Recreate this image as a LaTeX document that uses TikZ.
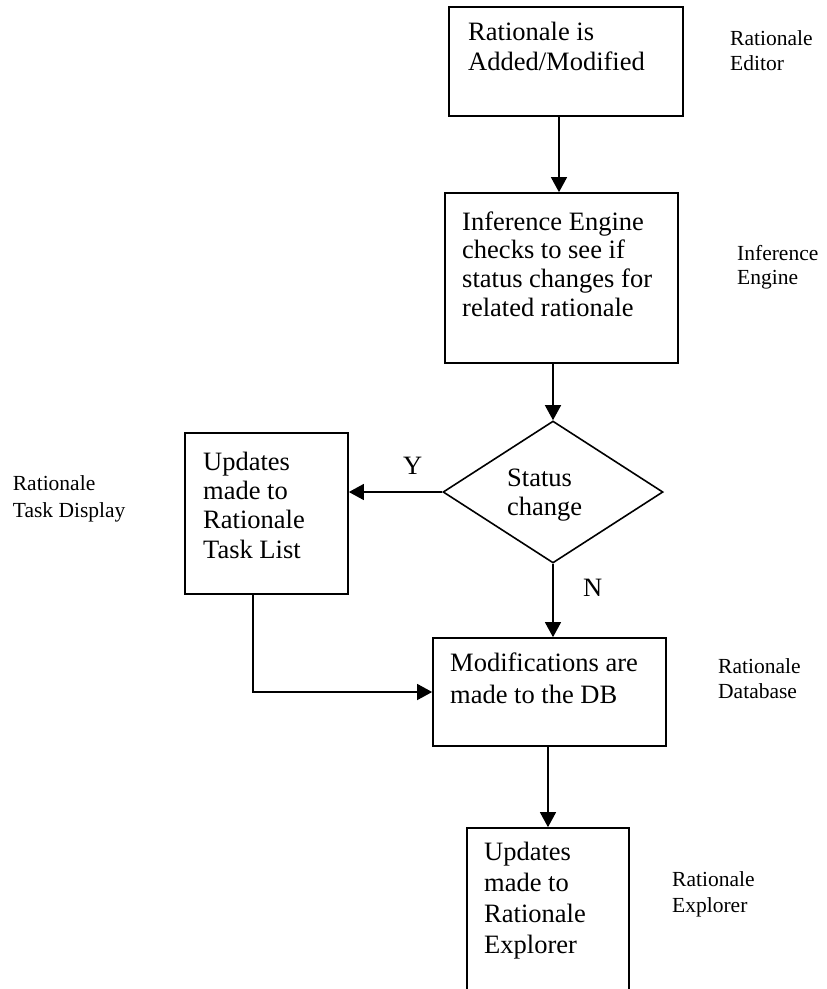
\documentclass[tikz,border=0pt]{standalone}
\usepackage{fontspec}
\setmainfont{Liberation Serif}
\usetikzlibrary{arrows.meta,shapes.geometric}
\begin{document}
\begin{tikzpicture}[x=1pt,y=-1pt,
  box/.style={draw,line width=1.7pt,rectangle,inner sep=0pt},
  decision/.style={draw,line width=1.6pt,diamond,inner sep=0pt,minimum width=220pt,minimum height=142pt},
  arr/.style={line width=1.4pt,-{Triangle[length=15pt,width=16pt]}},
  line/.style={line width=1.4pt},
  txt/.style={anchor=base west,inner sep=0pt,font=\fontsize{26.5}{29}\selectfont},
  side/.style={anchor=base west,inner sep=0pt,font=\fontsize{21.5}{25}\selectfont}
]
% page frame
\path[use as bounding box] (0,0) rectangle (827,989);
\clip (0,0) rectangle (827,989);

% process boxes
\node[box,minimum width=234pt,minimum height=109pt] (b1) at (566,61.5) {};
\node[box,minimum width=233pt,minimum height=170pt] (b2) at (561.5,278) {};
\node[decision] (dm) at (553,492) {};
\node[box,minimum width=163pt,minimum height=161pt] (task) at (266.5,513.5) {};
\node[box,minimum width=233pt,minimum height=108pt] (db) at (549.5,692) {};
\node[box,minimum width=162pt,minimum height=200pt] (ex) at (548,928) {};

% box texts
\node[txt] (b1a) at (468,40.7) {Rationale is};
\node[txt] (b1b) at (468,70) {Added/Modified};

\node[txt] (b2a) at (462,230) {Inference Engine};
\node[txt] (b2b) at (462,258.5) {checks to see if};
\node[txt] (b2c) at (462,287.5) {status changes for};
\node[txt] (b2d) at (462,316.5) {related rationale};

\node[txt] (dma) at (507,486) {Status};
\node[txt] (dmb) at (507,515) {change};

\node[txt] (ta) at (203,470) {Updates};
\node[txt] (tb) at (203,499) {made to};
\node[txt] (tc) at (203,528.5) {Rationale};
\node[txt] (td) at (203,558) {Task List};

\node[txt] (dba) at (450,671.5) {Modifications are};
\node[txt] (dbb) at (450,703) {made to the DB};

\node[txt] (exa) at (484,860) {Updates};
\node[txt] (exb) at (484,891.5) {made to};
\node[txt] (exc) at (484,922) {Rationale};
\node[txt] (exd) at (484,953) {Explorer};

% component labels
\node[side] (s1a) at (730,45) {Rationale};
\node[side] (s1b) at (730,70.7) {Editor};
\node[side] (s2a) at (737,260) {Inference};
\node[side] (s2b) at (737,284) {Engine};
\node[side] (s3a) at (12.7,490.7) {Rationale};
\node[side] (s3b) at (12.7,517.3) {Task Display};
\node[side] (s4a) at (718,673) {Rationale};
\node[side] (s4b) at (718,698) {Database};
\node[side] (s5a) at (672,886.7) {Rationale};
\node[side] (s5b) at (672,912.7) {Explorer};

% branch labels
\node[txt] (yl) at (403,474) {Y};
\node[txt] (nl) at (583,596) {N};

% connectors
\coordinate (c1) at (559,0);
\coordinate (c2) at (253,0);
\draw[arr] (b1.south -| c1) -- (b2.north -| c1);
\draw[arr] (b2.south -| dm.north) -- (dm.north);
\draw[arr] (dm.west) -- (dm.west -| task.east);
\draw[arr] (dm.south) -- (dm.south |- db.north);
\draw[arr] (task.south -| c2) |- (db.west);
\draw[arr] (db.south -| ex.north) -- (ex.north);
\end{tikzpicture}
\end{document}
